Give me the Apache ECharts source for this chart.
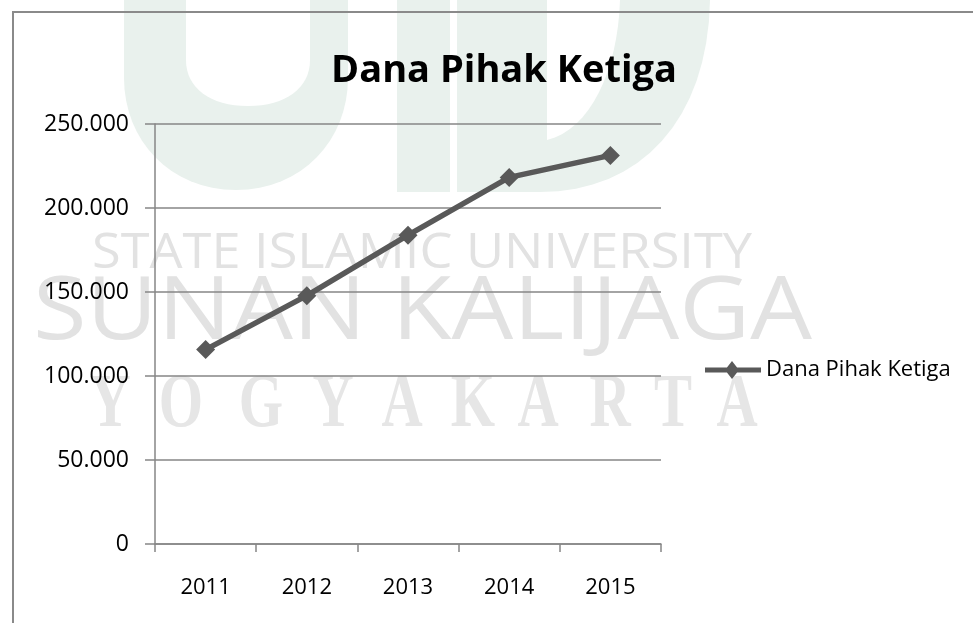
<!DOCTYPE html>
<html><head><meta charset="utf-8">
<script src="https://cdn.jsdelivr.net/npm/echarts@6/dist/echarts.min.js"></script>
<style>html,body{margin:0;padding:0;background:#fff}#c{width:973px;height:623px}</style>
</head><body><div id="c"></div>
<script>
// ---- data ----
const categories = ['2011', '2012', '2013', '2014', '2015'];
const seriesName = 'Dana Pihak Ketiga';
const dpkValues = [115700, 147800, 183800, 218200, 231300];
const yMin = 0, yMax = 250000, yInterval = 50000;
const titleText = 'Dana Pihak Ketiga';
const watermarkTop = 'STATE ISLAMIC UNIVERSITY';
const watermarkMid = 'SUNAN KALIJAGA';
const watermarkBottom = ['Y','O','G','Y','A','K','A','R','T','A'];

function fmt(v) { return String(v).replace(/\B(?=(\d{3})+(?!\d))/g, '.'); }

const ctx = document.createElement('canvas').getContext('2d');
function fitText(text, font, x1, x2, yMid, fill) {
  ctx.font = font;
  const w = ctx.measureText(text).width;
  return { type: 'text', x: x1, y: yMid, scaleX: (x2 - x1) / w, silent: true, z: -10,
    style: { text: text, font: font, fill: fill, textAlign: 'left', textVerticalAlign: 'middle' } };
}
// decorative outline built from straight and cubic segments -> polygon points
function shapePoints(segs) {
  const pts = [];
  let cur = null;
  segs.forEach(function (s) {
    if (s.length === 2) { pts.push(s); cur = s; }
    else {
      const p0 = cur, p1 = [s[0], s[1]], p2 = [s[2], s[3]], p3 = [s[4], s[5]];
      for (let t = 1; t <= 16; t++) {
        const u = t / 16, m = 1 - u;
        pts.push([
          m*m*m*p0[0] + 3*m*m*u*p1[0] + 3*m*u*u*p2[0] + u*u*u*p3[0],
          m*m*m*p0[1] + 3*m*m*u*p1[1] + 3*m*u*u*p2[1] + u*u*u*p3[1]
        ]);
      }
      cur = p3;
    }
  });
  return pts;
}
function logoPoly(segs, fill, z) {
  return { type: 'polygon', silent: true, z: z, shape: { points: shapePoints(segs) }, style: { fill: fill } };
}
const wmColor = '#e2e2e2';
const logoGreen = '#e9f1ed';
const graphics = [
  logoPoly([[124,0],[124,78],[124,140,170,190,236,190],[302,190,348,140,348,78],[348,0]], logoGreen, -16),
  logoPoly([[186,0],[186,60],[186,88,210,106,248,106],[286,106,310,88,310,60],[310,0]], '#ffffff', -15),
  { type: 'rect', silent: true, z: -16, shape: { x: 397, y: 0, width: 53, height: 192 }, style: { fill: logoGreen } },
  logoPoly([[457,0],[710,0],[708,120,640,192,540,192],[457,192]], logoGreen, -16),
  logoPoly([[547,0],[620,0],[618,70,590,130,547,140]], '#ffffff', -15),
  { type: 'rect', silent: true, z: -5, shape: { x: 13, y: 12, width: 1100, height: 800 },
    style: { fill: null, stroke: '#8a8a8a', lineWidth: 2 } },
  fitText(watermarkTop, '50px "Open Sans"', 92, 752, 254, wmColor),
  fitText(watermarkMid, '88px "Open Sans"', 33, 812, 314, wmColor)
];
const yCenters = [110, 181, 261, 333, 402, 473, 538, 610, 673, 737];
watermarkBottom.forEach(function (ch, i) {
  graphics.push({ type: 'text', x: yCenters[i], y: 406, scaleX: 0.75, silent: true, z: -10,
    style: { text: ch, font: 'bold 76px "Liberation Serif"', fill: '#e6e6e6', textAlign: 'center', textVerticalAlign: 'middle' } });
});

const legendIcon = 'path://M0,6.5L21.94,6.5L27,0L32.06,6.5L56,6.5L56,11.5L32.06,11.5L27,18L21.94,11.5L0,11.5Z';

const axisGray = '#868686';
const chart = echarts.init(document.getElementById('c'), null, { renderer: 'canvas' });
chart.setOption({
  animation: false,
  backgroundColor: '#ffffff',
  textStyle: { fontFamily: '"Open Sans", sans-serif' },
  title: {
    text: titleText, left: 499, top: 47, textAlign: 'center',
    textStyle: { fontSize: 38, fontWeight: 'bold', color: '#000', fontFamily: '"Open Sans"' }
  },
  legend: {
    data: [{ name: seriesName, icon: legendIcon }], left: 700, top: 354, itemWidth: 56, itemHeight: 18,
    symbolKeepAspect: false,
    itemStyle: { color: '#595959', borderWidth: 0 },
    textStyle: { fontSize: 22, color: '#000', fontFamily: '"Open Sans"' }
  },
  grid: { left: 155, right: 312, top: 124, bottom: 79 },
  xAxis: {
    type: 'category', data: categories, boundaryGap: true,
    axisLine: { lineStyle: { color: axisGray, width: 1.5 } },
    axisTick: { show: true, length: 8, lineStyle: { color: axisGray, width: 1.5 } },
    axisLabel: { margin: 33, fontSize: 22, color: '#000' }
  },
  yAxis: {
    type: 'value', min: yMin, max: yMax, interval: yInterval,
    axisLine: { show: true, lineStyle: { color: axisGray, width: 1.5 } },
    axisTick: { show: true, length: 10, lineStyle: { color: axisGray, width: 1.5 } },
    axisLabel: { margin: 26, fontSize: 23, color: '#000', formatter: fmt },
    splitLine: { show: true, lineStyle: { color: axisGray, width: 1.5 } }
  },
  series: [{
    type: 'line', name: seriesName, data: dpkValues,
    symbol: 'diamond', symbolSize: 19,
    lineStyle: { color: '#595959', width: 5.5 },
    itemStyle: { color: '#595959' },
    z: 5
  }],
  graphic: graphics
});
</script>
</body></html>
